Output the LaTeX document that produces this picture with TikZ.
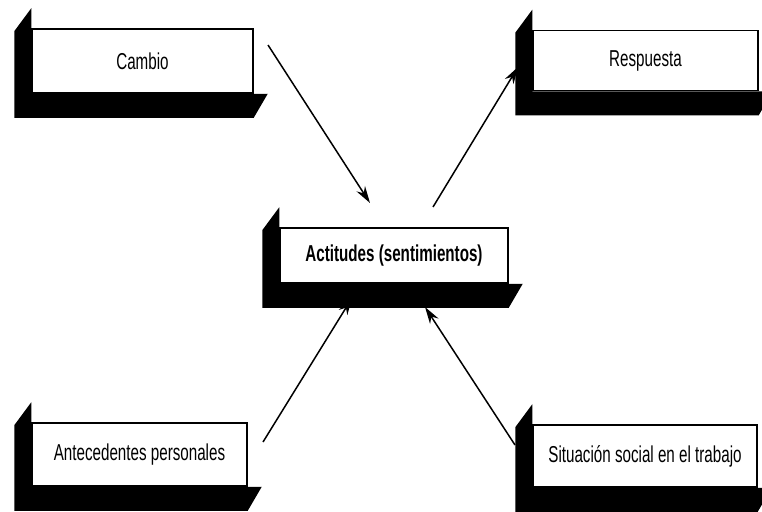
\documentclass[tikz,border=0pt]{standalone}
\usepackage{fontspec}
\newfontfamily\boxfont{Liberation Sans}[FakeStretch=0.66]
\usetikzlibrary{calc,arrows.meta}

\tikzset{
  slab/.style={draw=black, line width=1.5pt, fill=white, inner sep=0pt,
    font=\boxfont\fontsize{23}{27}\selectfont},
  link/.style={line width=1.5pt, -{Stealth[length=17pt,width=10pt]}}
}

% black L-shaped backing (left face and bottom face) behind a box
\newcommand\slabback[1]{%
  \fill[black]
    ($(#1.north west)+(-17,3)$) -- ($(#1.north west)+(0,-20)$)
    -- (#1.south west) -- ($(#1.south east)+(14,0)$)
    -- ($(#1.south east)+(0,24)$) -- ($(#1.south west)+(-17,24)$) -- cycle;
}

\begin{document}
\begin{tikzpicture}[x=1pt,y=-1pt]
  \useasboundingbox (0,0) rectangle (762,511);
  \clip (0,0) rectangle (762,511);

  \node[slab, minimum width=221, minimum height=64] (cambio) at (142.5,61) {Cambio};
  \node[slab, minimum width=225, minimum height=60] (respuesta) at (645.5,60.5) {Respuesta};
  \node[slab, minimum width=228, minimum height=55] (actitudes) at (394,255.5) {\bfseries Actitudes (sentimientos)};
  \node[slab, minimum width=215, minimum height=63] (antecedentes) at (139.5,454.5) {Antecedentes personales};
  \node[slab, minimum width=224, minimum height=62] (situacion) at (645,456) {Situación social en el trabajo};

  \slabback{cambio}
  \slabback{respuesta}
  \slabback{actitudes}
  \slabback{antecedentes}
  \slabback{situacion}

  % arrow end points
  \coordinate (c1a) at (268,45);  \coordinate (c1b) at (370,203);
  \coordinate (c2a) at (433,207); \coordinate (c2b) at (518,67);
  \coordinate (c3a) at (263,442); \coordinate (c3b) at (352,298);
  \coordinate (c4a) at (515,445); \coordinate (c4b) at (425,307);

  \draw[link] (c1a) -- (c1b);
  \draw[link] (c2a) -- (c2b);
  \draw[link] (c3a) -- (c3b);
  \draw[link] (c4a) -- (c4b);
\end{tikzpicture}
\end{document}
